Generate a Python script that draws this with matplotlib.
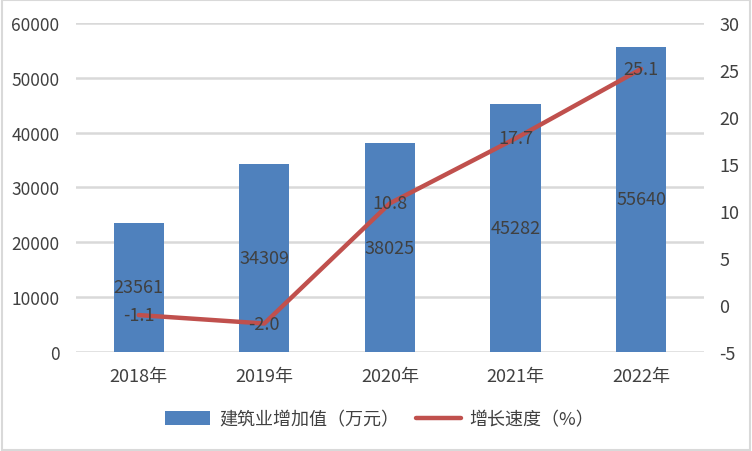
import matplotlib.pyplot as plt
from matplotlib.patches import Rectangle

plt.rcParams["font.family"] = ["Noto Sans CJK SC", "DejaVu Sans"]
plt.rcParams["axes.unicode_minus"] = False

years = ["2018年", "2019年", "2020年", "2021年", "2022年"]
added_value = [23561, 34309, 38025, 45282, 55640]
growth = [-1.1, -2.0, 10.8, 17.7, 25.1]

BAR = "#4F81BD"
LINE = "#C0504D"
TEXT = "#404040"
GRID = "#D9D9D9"

fig = plt.figure(figsize=(7.52, 4.52), dpi=100)
ax = fig.add_axes([0.101, 0.2197, 0.835, 0.7273])
ax2 = ax.twinx()

x = range(len(years))
bars = ax.bar(x, added_value, width=0.4, color=BAR, label="建筑业增加值（万元）", zorder=2)
ax.bar_label(bars, labels=[str(v) for v in added_value], label_type="center",
             color=TEXT, fontsize=13)

line, = ax2.plot(x, growth, color=LINE, linewidth=3.2, solid_capstyle="round",
                 label="增长速度（%）", zorder=3)
for xi, g in zip(x, growth):
    ax2.text(xi, g, f"{g:.1f}", ha="center", va="center", color=TEXT,
             fontsize=13, zorder=4)

ax.set_xlim(-0.5, len(years) - 0.5)
ax.set_ylim(0, 60000)
ax.set_yticks(range(0, 60001, 10000))
ax2.set_ylim(-5, 30)
ax2.set_yticks(range(-5, 31, 5))

ax.set_xticks(list(x), years)
ax.grid(axis="y", color=GRID, linewidth=1.8, zorder=0)
ax.set_axisbelow(True)

for a in (ax, ax2):
    for s in a.spines.values():
        s.set_visible(False)
    a.tick_params(length=0, labelsize=13, labelcolor=TEXT)
ax.tick_params(axis="y", labelsize=12.5, pad=12)
ax2.tick_params(axis="y", pad=11)
ax.tick_params(axis="x", pad=11)

fig.legend([bars, line], ["建筑业增加值（万元）", "增长速度（%）"],
           loc="center", bbox_to_anchor=(0.505, 0.07), ncol=2, frameon=False,
           fontsize=13, labelcolor=TEXT, handlelength=2.5, handleheight=0.8,
           columnspacing=0.9, handletextpad=0.5)

fig.patches.append(Rectangle((0.002, 0.003), 0.996, 0.994, transform=fig.transFigure,
                             fill=False, edgecolor=GRID, linewidth=1.5))

fig.savefig("out.png", dpi=100, facecolor="white")
